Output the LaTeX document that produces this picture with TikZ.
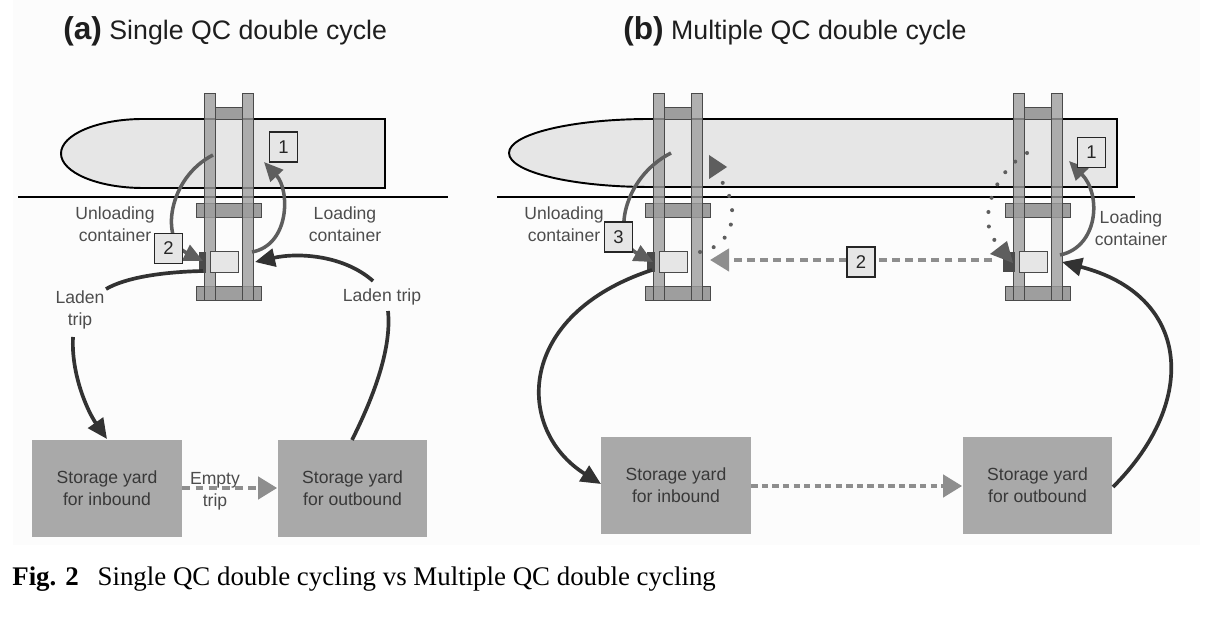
\documentclass[tikz,border=0pt]{standalone}
\usepackage{fontspec}
\setmainfont{Liberation Sans}
\newfontfamily\capfont{Liberation Serif}
\usetikzlibrary{arrows.meta}
\definecolor{shipfill}{HTML}{E6E6E6}
\definecolor{cranefill}{HTML}{9E9E9E}
\definecolor{craneline}{HTML}{4A4A4A}
\definecolor{yardfill}{HTML}{A9A9A9}
\definecolor{lblcol}{HTML}{4D4D4D}
\definecolor{darkarr}{HTML}{323232}
\definecolor{midarr}{HTML}{5E5E5E}
\definecolor{dasharr}{HTML}{8E8E8E}
\definecolor{bgcol}{HTML}{FCFCFC}
\definecolor{titlecol}{HTML}{1E1E1E}
\tikzset{
  cranepart/.style={fill=cranefill, draw=craneline, line width=0.5pt},
  contpart/.style={fill=shipfill, draw=craneline, line width=0.5pt},
  shipbody/.style={fill=shipfill, draw=black, line width=1.1pt},
  groundline/.style={draw=black, line width=1.1pt},
  yard/.style={fill=yardfill, text=black!78, align=center, inner sep=0pt,
    font=\fontsize{10}{12.5}\selectfont, minimum width=3cm, minimum height=1.96cm},
  numbox/.style={draw=black!85, fill=shipfill, line width=0.6pt, inner sep=0pt,
    minimum width=0.56cm, minimum height=0.6cm, text=black!85,
    font=\fontsize{10.5}{12}\selectfont},
  lbl/.style={text=lblcol, align=center, inner sep=0pt, font=\fontsize{10}{12.5}\selectfont},
  titletext/.style={anchor=base west, inner sep=0pt, text=titlecol},
  darkarrow/.style={draw=darkarr, line width=2.1pt, -{Triangle[length=0.4cm,width=0.36cm]}},
  darkplain/.style={draw=darkarr, line width=2.1pt},
  midarrow/.style={draw=midarr, line width=2pt, -{Triangle[length=0.38cm,width=0.34cm]}},
  dashA/.style={draw=dasharr, line width=2.4pt, dash pattern=on 4.5pt off 3pt,
    -{Triangle[length=0.38cm,width=0.44cm]}},
  dashB/.style={draw=dasharr, line width=2.4pt, dash pattern=on 3.6pt off 2.4pt,
    -{Triangle[length=0.38cm,width=0.44cm]}},
  dotline/.style={draw=midarr, line width=2.3pt, line cap=round, dash pattern=on 0pt off 8.3pt},
  trianglefill/.style={fill=midarr},
  darkpatch/.style={fill=craneline}
}
\newcommand\qcrane[2]{%
  \begin{scope}[shift={(#1,0)}]
    \filldraw[cranepart] (-8,203) rectangle (57,217);
    \filldraw[cranepart] (-8,286) rectangle (57,300);
    \filldraw[cranepart] (11,107) rectangle (38,119);
    \filldraw[cranepart, fill opacity=0.8] (0,93) rectangle (11,300);
    \filldraw[cranepart, fill opacity=0.8] (38,93) rectangle (49,300);
    \filldraw[contpart] (6,251) rectangle (34,272);
    \coordinate (#2cont) at (20,261.5);
  \end{scope}}
\begin{document}
\begin{tikzpicture}[x=0.02cm,y=-0.02cm]
\useasboundingbox (0,0) rectangle (1227,634);
\fill[bgcol] (13,0) rectangle (1200,545);

% ---------- titles ----------
\node[titletext] (ta) at (63,40)
  {\fontsize{18}{20}\selectfont\bfseries (a)\fontsize{15.2}{18}\selectfont\mdseries\ Single QC double cycle};
\node[titletext] (tb) at (623,40)
  {\fontsize{18}{20}\selectfont\bfseries (b)\fontsize{15.2}{18}\selectfont\mdseries\ Multiple QC double cycle};

% ---------- panel (a) ----------
\filldraw[shipbody] (143,188) .. controls (98,188) and (61,172.5) .. (61,153.5)
  .. controls (61,134.5) and (98,119) .. (143,119) -- (385,119) -- (385,188) -- cycle;
\coordinate (ga1) at (18,197); \coordinate (ga2) at (448,197);
\draw[groundline] (ga1) -- (ga2);
\qcrane{204}{A}
\fill[darkpatch] (199,252) rectangle (206,273);

\node[yard] (ain) at (107,488.5) {Storage yard\\for inbound};
\node[yard] (aout) at (352.5,488.5) {Storage yard\\for outbound};

\coordinate (aU1) at (213,155); \coordinate (aU2) at (203,261);
\draw[midarrow] (aU1) .. controls (168,178) and (160,240) .. (aU2);
\coordinate (aL1) at (252,252); \coordinate (aL2) at (264,162);
\draw[midarrow] (aL1) .. controls (290,245) and (290,190) .. (aL2);

\coordinate (aD1) at (203,271); \coordinate (aD2) at (106,289);
\draw[darkplain] (aD1) .. controls (160,272) and (125,278) .. (aD2);
\coordinate (aD3) at (73,337); \coordinate (aD4) at (107,439);
\draw[darkarrow] (aD3) .. controls (71,375) and (88,412) .. (aD4);

\coordinate (aR1) at (352,440); \coordinate (aR2) at (388,311);
\draw[darkplain] (aR1) .. controls (372,400) and (392,350) .. (aR2);
\coordinate (aR3) at (373,281); \coordinate (aR4) at (255,262);
\draw[darkarrow] (aR3) .. controls (345,256) and (300,252) .. (aR4);

\draw[dashA] (ain.east |- 0,488) -- (aout.west |- 0,488);

\node[lbl] (aunl) at (115,224) {Unloading\\container};
\node[lbl] (aload) at (345,224) {Loading\\container};
\node[lbl] (aladl) at (80,310) {Laden\\trip};
\node[lbl] (aladr) at (382,297) {Laden trip};
\node[lbl] (aempty) at (215,491) {Empty\\trip};
\node[numbox] (a1) at (283.5,147) {1};
\node[numbox] (a2) at (168.5,248.5) {2};

% ---------- panel (b) ----------
\filldraw[shipbody] (650,187) .. controls (572,187) and (509,172) .. (509,153)
  .. controls (509,134) and (572,119) .. (650,119) -- (1117,119) -- (1117,187) -- cycle;
\coordinate (gb1) at (497,197); \coordinate (gb2) at (1135,197);
\draw[groundline] (gb1) -- (gb2);
\qcrane{653}{BL}
\qcrane{1013}{BR}
\fill[darkpatch] (647,252) rectangle (655,272);
\fill[darkpatch] (1003,252) rectangle (1015,272);

\node[yard] (bin) at (676,485.5) {Storage yard\\for inbound};
\node[yard] (bout) at (1037.5,485.5) {Storage yard\\for outbound};

\coordinate (bU1) at (671,153); \coordinate (bU2) at (653,262);
\draw[midarrow] (bU1) .. controls (622,178) and (612,240) .. (bU2);

\coordinate (bL1) at (1060,255); \coordinate (bL2) at (1069,161);
\draw[midarrow] (bL1) .. controls (1098,247) and (1102,195) .. (bL2);

% dotted paths
\coordinate (bP1) at (700,252); \coordinate (bP2) at (720,179);
\draw[dotline] (bP1) .. controls (737,245) and (740,205) .. (bP2);
\fill[trianglefill] (709,155) -- (727,167) -- (709,179) -- cycle;
\coordinate (bQ1) at (1027,153); \coordinate (bQ2) at (997,243);
\draw[dotline] (bQ1) .. controls (990,175) and (978,225) .. (bQ2);
\fill[trianglefill] (990,254) -- (1007,241) -- (1013,263) -- cycle;

% dashed 2
\coordinate (bD1) at (992,260); \coordinate (bD2) at (710,260);
\draw[dashA] (bD1) -- (bD2);
\draw[dashB] (bin.east |- 0,486) -- (bout.west |- 0,486);

% laden trips
\coordinate (bT1) at (652,270); \coordinate (bT2) at (601,484);
\draw[darkarrow] (bT1) .. controls (515,315) and (515,430) .. (bT2);
\coordinate (bT3) at (1113,487); \coordinate (bT4) at (1062,262);
\draw[darkarrow] (bT3) .. controls (1200,400) and (1190,295) .. (bT4);

\node[lbl] (bunl) at (564,224) {Unloading\\container};
\node[lbl] (bload) at (1131,228) {Loading\\container};
\node[numbox] (b1) at (1091.5,152.5) {1};
\node[numbox] (b3) at (618.5,237) {3};
\node[numbox] (b2) at (861,262) {2};

% ---------- caption ----------
\node[anchor=base west, inner sep=0pt] (cap) at (12,585)
  {\capfont\fontsize{15.3}{18}\selectfont\textbf{Fig. 2}\hspace{0.7em}Single QC double cycling vs Multiple QC double cycling};
\end{tikzpicture}
\end{document}
